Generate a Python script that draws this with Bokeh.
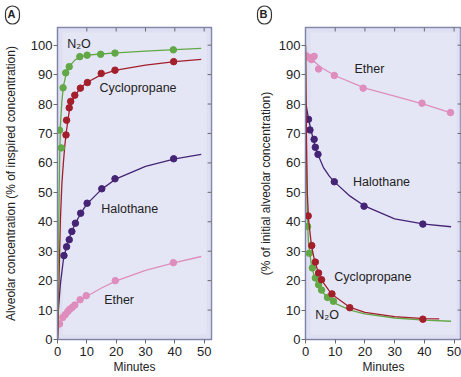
from bokeh.plotting import figure
from bokeh.layouts import row
from bokeh.models import Label, BoxAnnotation, Range1d, FixedTicker, Title
from bokeh.embed import file_html
from bokeh.resources import INLINE

# ---------------- data ----------------
minute_ticks = [0, 10, 20, 30, 40, 50]
pct_ticks = [0, 10, 20, 30, 40, 50, 60, 70, 80, 90, 100]

# Panel A: uptake (% of inspired concentration)
a_n2o_x = [0.7, 1.3, 1.9, 2.8, 4.0, 7.6, 10.1, 14.7, 19.6, 39.5]
a_n2o_y = [71.1, 65.1, 85.5, 90.6, 92.7, 96.1, 96.6, 96.9, 97.3, 98.4]
a_cyc_x = [2.9, 3.1, 4.0, 4.5, 5.9, 7.8, 10.2, 14.9, 19.6, 39.6]
a_cyc_y = [69.5, 74.5, 78.7, 80.9, 83.0, 85.4, 87.3, 90.4, 91.5, 94.4]
a_hal_x = [2.2, 3.1, 4.0, 4.9, 6.1, 7.9, 10.1, 15.1, 19.6, 39.6]
a_hal_y = [28.5, 31.5, 33.9, 36.7, 39.5, 42.9, 46.3, 51.2, 54.6, 61.4]
a_eth_x = [0.7, 1.8, 2.6, 3.5, 4.2, 5.0, 5.9, 7.7, 9.8, 19.7, 39.5]
a_eth_y = [5.3, 7.5, 8.4, 9.5, 10.3, 10.9, 11.7, 13.5, 14.9, 20.0, 26.1]

# Panel A fitted curves
a_n2o_cx = [0, 0.25, 0.5, 0.75, 1, 1.5, 2, 3, 4, 6, 8, 10, 15, 20, 30, 40, 49]
a_n2o_cy = [0, 22, 45, 63, 73, 81, 86, 90.5, 92.8, 95, 96, 96.6, 97, 97.4, 98, 98.5, 98.9]
a_cyc_cx = [0, 0.5, 1, 1.5, 2, 2.5, 3, 3.5, 4, 5, 6, 8, 10, 15, 20, 30, 40, 49]
a_cyc_cy = [0, 20, 41, 53, 60, 66, 70.5, 74, 77.5, 81, 83, 85.6, 87.3, 90, 91.5, 93.2, 94.4, 95.2]
a_hal_cx = [0, 0.3, 1, 2, 3, 4, 5, 6, 8, 10, 15, 20, 30, 40, 49]
a_hal_cy = [0, 10, 19, 27, 31.5, 34.5, 37, 39.3, 43, 46, 51, 54.6, 58.8, 61.4, 62.9]
a_eth_cx = [0, 0.3, 0.7, 2, 3, 4, 5, 6, 8, 10, 15, 20, 30, 40, 49]
a_eth_cy = [0, 3.5, 5.5, 7.8, 9, 10.2, 11, 11.8, 13.3, 14.7, 17.5, 19.9, 23.5, 26.1, 28.2]

# Panel B: elimination (% of initial alveolar concentration)
b_eth_x = [0.2, 1.0, 2.0, 2.9, 4.4, 9.7, 19.4, 39.2, 48.8]
b_eth_y = [96.4, 95.9, 95.1, 96.2, 91.9, 89.7, 85.4, 80.3, 77.1]
b_hal_x = [1.0, 1.5, 2.9, 3.3, 4.2, 9.7, 19.7, 39.5]
b_hal_y = [74.8, 71.2, 68.0, 65.3, 62.9, 53.6, 45.3, 39.2]
b_cyc_x = [0.9, 2.1, 3.3, 4.4, 5.4, 8.9, 14.9, 39.5]
b_cyc_y = [42.0, 31.9, 26.3, 22.6, 20.3, 15.5, 10.8, 6.9]
b_n2o_x = [0.7, 1.3, 2.3, 3.3, 4.4, 5.4, 7.4, 9.4]
b_n2o_y = [38.4, 29.3, 24.3, 20.9, 18.6, 16.8, 14.3, 13.0]

b_eth_cx = [0, 2, 5, 10, 20, 30, 40, 49]
b_eth_cy = [97.8, 95.3, 92.6, 89.6, 85.4, 82.7, 79.9, 77.0]
b_hal_cx = [0, 1, 2, 3, 4, 6, 8, 10, 15, 20, 30, 40, 49]
b_hal_cy = [81, 75, 70.5, 66.5, 63.3, 58.5, 55.5, 53.3, 48.7, 45.3, 41, 39.2, 38.3]
b_cyc_cx = [0, 0.3, 0.6, 1, 2, 3, 4, 5, 6, 8, 10, 15, 20, 30, 40, 45]
b_cyc_cy = [100, 70, 50, 41, 32, 27, 23.8, 21.3, 19.3, 16.5, 14.5, 10.9, 9.2, 7.8, 7.1, 7.0]
b_n2o_cx = [0, 0.3, 0.6, 1, 2, 3, 4, 5, 6, 8, 10, 15, 20, 30, 40, 49]
b_n2o_cy = [100, 60, 42, 33, 25, 21.3, 19, 17.2, 15.8, 13.7, 12.3, 10, 8.7, 7.3, 6.6, 6.2]

# ---------------- style ----------------
FONT = "Liberation Sans"
GREEN = "#62a846"
RED = "#a31f2b"
PURPLE = "#452476"
PINK = "#de8dbd"
FRAME_BG = "#e5e6f5"
BAND = "#ccd0ec"
OUTLINE = "#7f84a6"
TICK = "#6a6a6a"
TEXT = "#222222"

X_MAX = 52.5
Y_MAX = 106
HEIGHT = 377
BORDER_TOP = 25
FRAME_H = 314
FRAME_W = 158
TICK_PX = 4


def make_panel(width, border_left, border_right, ylabel, ylabel_standoff,
               badge_text, badge_offset):
    p = figure(width=width, height=HEIGHT, output_backend="svg", toolbar_location=None,
               x_range=Range1d(0, X_MAX), y_range=Range1d(0, Y_MAX),
               min_border_left=border_left, min_border_right=border_right,
               min_border_top=BORDER_TOP,
               min_border_bottom=HEIGHT - BORDER_TOP - FRAME_H,
               background_fill_color=FRAME_BG, border_fill_color="white",
               outline_line_color=OUTLINE, outline_line_width=1.5)
    p.grid.visible = False
    p.xaxis.ticker = FixedTicker(ticks=minute_ticks)
    p.yaxis.ticker = FixedTicker(ticks=pct_ticks)
    for ax in (p.xaxis[0], p.yaxis[0]):
        ax.axis_line_color = OUTLINE
        ax.major_tick_line_color = TICK
        ax.major_tick_in = 0
        ax.major_tick_out = TICK_PX
        ax.minor_tick_line_color = None
        ax.major_label_text_font = FONT
        ax.major_label_text_font_size = "13px"
        ax.major_label_text_color = TEXT
        ax.axis_label_text_font = FONT
        ax.axis_label_text_font_size = "12px"
        ax.axis_label_text_font_style = "normal"
        ax.axis_label_text_color = TEXT
    p.xaxis.major_label_standoff = 3
    p.xaxis.axis_label_standoff = 1
    p.yaxis.major_label_standoff = 1
    p.yaxis.axis_label_standoff = ylabel_standoff
    p.xaxis.axis_label = "Minutes"
    p.yaxis.axis_label = ylabel

    # circled panel letter
    p.title = Title(text=badge_text, align="left", offset=badge_offset,
                    text_font=FONT, text_font_size="11px", text_font_style="bold",
                    text_color=TEXT, border_line_color="#333333",
                    border_line_width=1.2, border_radius=8, padding=(2, 4, 2, 4),
                    standoff=7)

    # inner bevel band of the frame
    px_x = X_MAX / FRAME_W
    px_y = Y_MAX / FRAME_H
    p.add_layout(BoxAnnotation(left=2.5 * px_x, right=X_MAX - 2.5 * px_x,
                               bottom=2.5 * px_y, top=Y_MAX - 2.5 * px_y,
                               fill_alpha=0, line_color=BAND, line_width=5,
                               level="underlay"))

    # inward ticks on the top and right edges
    top_t = minute_ticks[1:]
    p.segment(x0=top_t, y0=[Y_MAX] * len(top_t), x1=top_t,
              y1=[Y_MAX - TICK_PX * px_y] * len(top_t), line_color=TICK, line_width=1)
    right_t = pct_ticks[1:]
    p.segment(x0=[X_MAX] * len(right_t), y0=right_t,
              x1=[X_MAX - TICK_PX * px_x] * len(right_t), y1=right_t,
              line_color=TICK, line_width=1)
    return p


def series(p, cx, cy, px, py, color):
    p.line(cx, cy, line_color=color, line_width=1.3)
    p.scatter(px, py, size=6.5, fill_color=color, line_color=color)


def note(p, x, y, text):
    p.add_layout(Label(x=x, y=y, text=text, text_font=FONT, text_font_size="12.5px",
                       text_color=TEXT, text_baseline="middle"))


# ---------------- panel A ----------------
pa = make_panel(255, 53, 255 - 53 - FRAME_W,
                "Alveolar concentration (% of inspired concentration)", 10,
                "A", -52)
series(pa, a_eth_cx, a_eth_cy, a_eth_x, a_eth_y, PINK)
series(pa, a_hal_cx, a_hal_cy, a_hal_x, a_hal_y, PURPLE)
series(pa, a_cyc_cx, a_cyc_cy, a_cyc_x, a_cyc_y, RED)
series(pa, a_n2o_cx, a_n2o_cy, a_n2o_x, a_n2o_y, GREEN)
note(pa, 3.3, 100.5, "N₂O")
note(pa, 14.3, 85.3, "Cyclopropane")
note(pa, 14.9, 44.3, "Halothane")
note(pa, 15.9, 13.5, "Ether")

# ---------------- panel B ----------------
pb = make_panel(206, 48, 0, "(% of initial alveolar concentration)", 3, "B", -48)
series(pb, b_eth_cx, b_eth_cy, b_eth_x, b_eth_y, PINK)
series(pb, b_hal_cx, b_hal_cy, b_hal_x, b_hal_y, PURPLE)
series(pb, b_n2o_cx, b_n2o_cy, b_n2o_x, b_n2o_y, GREEN)
series(pb, b_cyc_cx, b_cyc_cy, b_cyc_x, b_cyc_y, RED)
note(pb, 16.5, 91.9, "Ether")
note(pb, 16.0, 53.6, "Halothane")
note(pb, 9.7, 21.1, "Cyclopropane")
note(pb, 3.3, 8.2, "N₂O")

layout = row(pa, pb)
open("out.html", "w").write(file_html(layout, INLINE))
